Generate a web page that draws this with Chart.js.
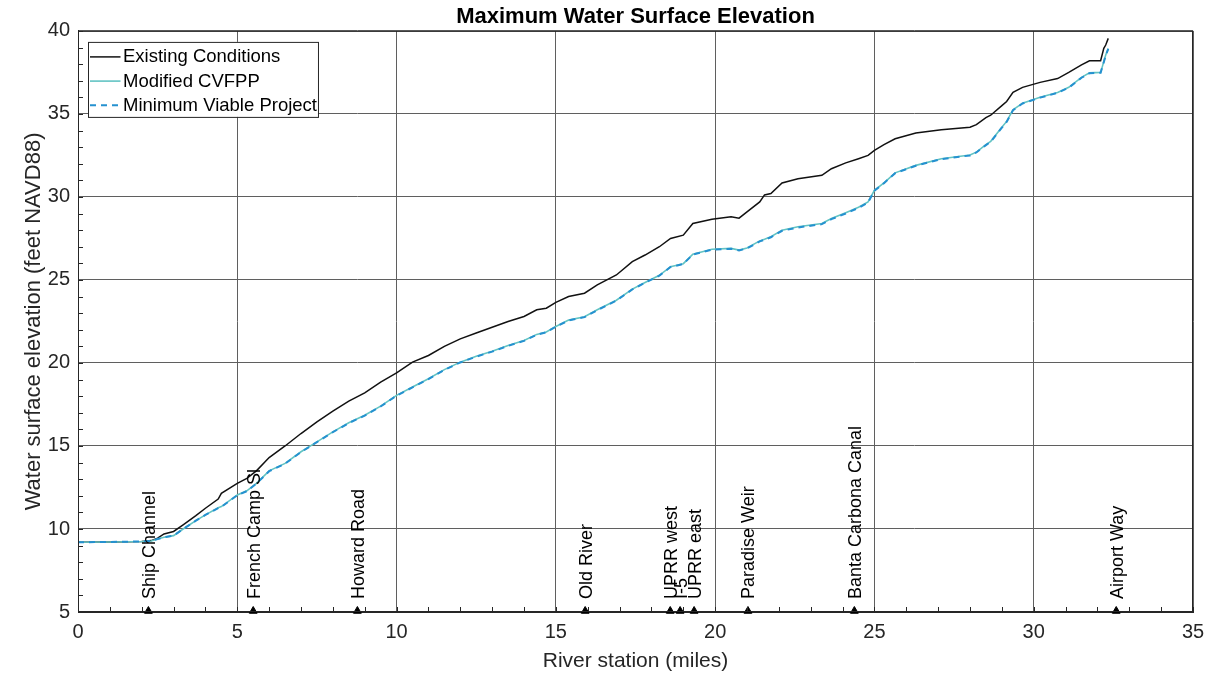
<!DOCTYPE html>
<html>
<head>
<meta charset="utf-8">
<title>Maximum Water Surface Elevation</title>
<script src="https://cdn.jsdelivr.net/npm/chart.js@4.4.1/dist/chart.umd.min.js"></script>
<style>
    html, body { margin: 0; padding: 0; background: #fff; }
    #wrap { width: 1216px; height: 684px; }
</style>
</head>
<body>
<div id="wrap"><canvas id="wseChart" width="1216" height="684"></canvas></div>
<script>
// River station (miles) along the profile
const stations = [
    0, 1, 2.0, 2.3, 2.5, 2.7, 3.0, 3.3, 3.7, 4.0,
    4.4, 4.5, 5.0, 5.3, 5.6, 6.0, 6.5, 7.0, 7.5, 8.0,
    8.5, 9.0, 9.5, 10.0, 10.5, 11.0, 11.5, 12.0, 12.5, 13.0,
    13.5, 14.0, 14.4, 14.7, 15.0, 15.4, 15.9, 16.3, 16.9, 17.4,
    17.8, 18.25, 18.6, 19.0, 19.3, 19.9, 20.5, 20.75, 21.0, 21.4,
    21.55, 21.75, 22.1, 22.6, 23.35, 23.65, 24.1, 24.5, 24.8, 25.0,
    25.3, 25.65, 26.3, 27.1, 28.0, 28.2, 28.5, 28.65, 29.0, 29.15,
    29.35, 29.65, 30.2, 30.75, 31.1, 31.5, 31.75, 32.1, 32.2, 32.26,
    32.34
];

// Existing Conditions (feet NAVD88)
const existingWse = [
    9.2, 9.22, 9.25, 9.3, 9.45, 9.7, 9.85, 10.25, 10.8, 11.25,
    11.8, 12.15, 12.75, 13.05, 13.5, 14.3, 15.0, 15.75, 16.45, 17.1,
    17.7, 18.2, 18.85, 19.4, 20.05, 20.45, 21.0, 21.45, 21.8, 22.15,
    22.5, 22.8, 23.2, 23.3, 23.65, 24.0, 24.2, 24.7, 25.3, 26.1,
    26.5, 27.0, 27.5, 27.7, 28.4, 28.65, 28.8, 28.72, 29.1, 29.7,
    30.12, 30.2, 30.84, 31.1, 31.3, 31.7, 32.05, 32.3, 32.5, 32.8,
    33.15, 33.5, 33.85, 34.05, 34.2, 34.35, 34.78, 34.92, 35.5, 35.75,
    36.3, 36.6, 36.9, 37.13, 37.5, 37.95, 38.2, 38.2, 38.95, 39.15,
    39.55
];

// Modified CVFPP (feet NAVD88)
const modifiedWse = [
    9.2, 9.22, 9.25, 9.28, 9.4, 9.5, 9.6, 10.0, 10.5, 10.85,
    11.28, 11.35, 12.05, 12.3, 12.75, 13.5, 13.95, 14.65, 15.25, 15.85,
    16.4, 16.85, 17.4, 18.05, 18.55, 19.05, 19.6, 20.05, 20.4, 20.7,
    21.05, 21.35, 21.72, 21.87, 22.2, 22.58, 22.78, 23.2, 23.78, 24.45,
    24.85, 25.28, 25.8, 25.98, 26.55, 26.85, 26.9, 26.8, 26.92, 27.35,
    27.45, 27.6, 28.0, 28.2, 28.4, 28.7, 29.05, 29.38, 29.7, 30.4,
    30.85, 31.45, 31.9, 32.3, 32.52, 32.7, 33.15, 33.35, 34.2, 34.55,
    35.25, 35.65, 36.0, 36.29, 36.6, 37.2, 37.47, 37.5, 38.15, 38.55,
    38.94
];

// Minimum Viable Project (feet NAVD88)
const mvpWse = [
    9.2, 9.22, 9.25, 9.28, 9.4, 9.5, 9.6, 10.0, 10.5, 10.85,
    11.26, 11.33, 12.03, 12.28, 12.73, 13.48, 13.93, 14.63, 15.23, 15.83,
    16.38, 16.83, 17.38, 18.03, 18.53, 19.03, 19.58, 20.03, 20.38, 20.68,
    21.03, 21.33, 21.7, 21.85, 22.18, 22.56, 22.76, 23.18, 23.76, 24.43,
    24.83, 25.26, 25.78, 25.96, 26.53, 26.83, 26.88, 26.78, 26.9, 27.32,
    27.42, 27.57, 27.96, 28.16, 28.36, 28.66, 29.0, 29.34, 29.66, 30.38,
    30.83, 31.43, 31.88, 32.28, 32.5, 32.68, 33.12, 33.32, 34.17, 34.52,
    35.22, 35.63, 35.98, 36.27, 36.58, 37.18, 37.45, 37.48, 38.12, 38.52,
    38.92
];

// Landmarks along the river
const landmarkNames = [
    'Ship Channel', 'French Camp Sl', 'Howard Road', 'Old River', 'UPRR west',
    'I-5', 'UPRR east', 'Paradise Weir', 'Banta Carbona Canal', 'Airport Way'
];
const landmarkStations = [2.21, 5.5, 8.77, 15.92, 18.59, 18.9, 19.34, 21.03, 24.37, 32.59];
const landmarkElevation = 5.06;

const fontFamily = "'Liberation Sans', Arial, Helvetica, sans-serif";
const axisColor = '#262626';
const gridColor = '#5f5f5f';

function toPoints(xs, ys) {
    return xs.map((x, i) => ({ x: x, y: ys[i] }));
}

// frame around the plot and small inward ticks
const frameAndTicks = {
    id: 'frameAndTicks',
    afterDatasetsDraw(chart) {
        const { ctx, chartArea: a, scales: { x, y } } = chart;
        ctx.save();
        ctx.strokeStyle = axisColor;
        ctx.lineWidth = 1;
        ctx.strokeRect(a.left + 0.5, a.top + 0.5, a.right - a.left - 1, a.bottom - a.top - 1);
        ctx.beginPath();
        for (let v = x.min; v <= x.max; v++) {
            const px = Math.round(x.getPixelForValue(v)) + 0.5;
            ctx.moveTo(px, a.bottom);
            ctx.lineTo(px, a.bottom - 5);
        }
        for (let v = y.min; v <= y.max; v++) {
            const py = Math.round(y.getPixelForValue(v)) + 0.5;
            ctx.moveTo(a.left, py);
            ctx.lineTo(a.left + 5, py);
        }
        ctx.stroke();
        ctx.restore();
    }
};

// vertical landmark names
const landmarkLabels = {
    id: 'landmarkLabels',
    afterDatasetsDraw(chart) {
        const { ctx, scales: { x, y } } = chart;
        ctx.save();
        ctx.fillStyle = '#000';
        ctx.font = '18px ' + fontFamily;
        ctx.textAlign = 'left';
        ctx.textBaseline = 'middle';
        const baseY = y.getPixelForValue(y.min) - 13;
        landmarkNames.forEach((name, i) => {
            const px = x.getPixelForValue(landmarkStations[i]) + 1.5;
            ctx.save();
            ctx.translate(px, baseY);
            ctx.rotate(-Math.PI / 2);
            ctx.fillText(name, 0, 0);
            ctx.restore();
        });
        ctx.restore();
    }
};

// legend box in the upper left corner of the plot
const insideLegend = {
    id: 'insideLegend',
    afterDraw(chart) {
        const { ctx, chartArea: a } = chart;
        const items = chart.data.datasets.filter(d => d.inLegend);
        const left = a.left + 10;
        const top = a.top + 11;
        const rowH = 24.2;
        ctx.save();
        ctx.font = '18.5px ' + fontFamily;
        const textW = Math.max(...items.map(d => ctx.measureText(d.label).width));
        const boxW = 35 + textW + 1;
        const boxH = 75;
        ctx.fillStyle = '#fff';
        ctx.fillRect(left, top, boxW, boxH);
        ctx.strokeStyle = axisColor;
        ctx.lineWidth = 1;
        ctx.strokeRect(left + 0.5, top + 0.5, boxW, boxH);
        ctx.textBaseline = 'middle';
        items.forEach((d, i) => {
            const cy = top + 15 + i * rowH;
            ctx.beginPath();
            ctx.strokeStyle = d.borderColor;
            ctx.lineWidth = d.borderWidth;
            ctx.setLineDash(d.borderDash || []);
            ctx.moveTo(left + 2, cy);
            ctx.lineTo(left + 32.5, cy);
            ctx.stroke();
            ctx.setLineDash([]);
            ctx.fillStyle = '#000';
            ctx.fillText(d.label, left + 35, cy + 0.5);
        });
        ctx.restore();
    }
};

const ctx = document.getElementById('wseChart').getContext('2d');

window.wseChart = new Chart(ctx, {
    type: 'line',
    data: {
        datasets: [
            {
                label: 'Existing Conditions',
                data: toPoints(stations, existingWse),
                borderColor: '#111111',
                borderWidth: 1.5,
                pointRadius: 0,
                tension: 0,
                order: 2,
                inLegend: true,
            },
            {
                label: 'Modified CVFPP',
                data: toPoints(stations, modifiedWse),
                borderColor: '#62c3c3',
                borderWidth: 1.6,
                pointRadius: 0,
                tension: 0,
                order: 1,
                inLegend: true,
            },
            {
                label: 'Minimum Viable Project',
                data: toPoints(stations, mvpWse),
                borderColor: '#2591d0',
                borderWidth: 2,
                borderDash: [6, 5],
                pointRadius: 0,
                tension: 0,
                order: 0,
                inLegend: true,
            },
            {
                label: 'Landmarks',
                data: toPoints(landmarkStations, landmarkStations.map(() => landmarkElevation)),
                showLine: false,
                pointStyle: 'triangle',
                pointRadius: 4.5,
                pointBackgroundColor: '#000',
                pointBorderColor: '#000',
                pointBorderWidth: 1,
                clip: false,
                order: 3,
                inLegend: false,
            },
        ],
    },
    options: {
        responsive: false,
        maintainAspectRatio: false,
        animation: false,
        layout: { padding: { left: 0, right: 23, top: 0, bottom: 0 } },
        plugins: {
            legend: { display: false },
            tooltip: { enabled: false },
            title: {
                display: true,
                text: 'Maximum Water Surface Elevation',
                color: '#000',
                fullSize: false,
                font: { family: fontFamily, size: 22, weight: 'bold' },
                padding: { top: 3.5, bottom: 1 },
            },
        },
        scales: {
            x: {
                type: 'linear',
                min: 0,
                max: 35,
                ticks: { stepSize: 5, padding: 8, color: axisColor, font: { family: fontFamily, size: 20 } },
                grid: { color: gridColor, lineWidth: 1, drawTicks: false },
                border: { display: true, color: axisColor },
                title: {
                    display: true,
                    text: 'River station (miles)',
                    color: axisColor,
                    font: { family: fontFamily, size: 21 },
                    padding: { top: 4, bottom: 10 },
                },
                afterFit(scale) { scale.height = 72; },
            },
            y: {
                min: 5,
                max: 40,
                ticks: { stepSize: 5, padding: 8, color: axisColor, font: { family: fontFamily, size: 20 } },
                grid: { color: gridColor, lineWidth: 1, drawTicks: false },
                border: { display: true, color: axisColor },
                title: {
                    display: true,
                    text: 'Water surface elevation (feet NAVD88)',
                    color: axisColor,
                    font: { family: fontFamily, size: 22 },
                    padding: { top: 21, bottom: 0 },
                },
                afterFit(scale) { scale.width = 78; },
            },
        },
    },
    plugins: [frameAndTicks, landmarkLabels, insideLegend],
});
</script>
</body>
</html>
